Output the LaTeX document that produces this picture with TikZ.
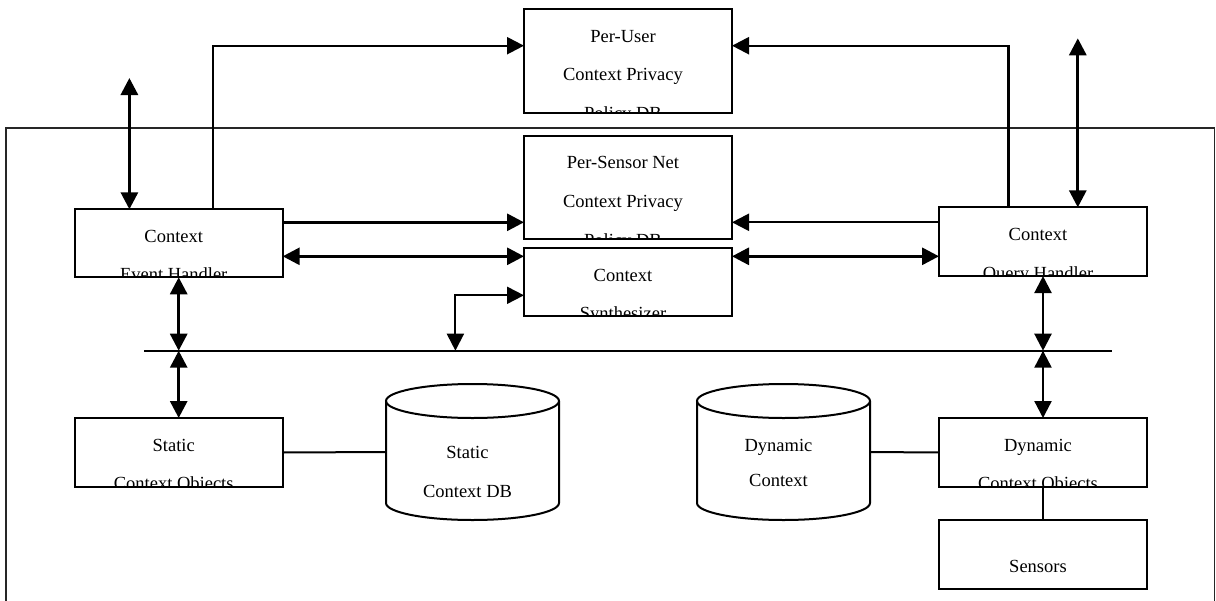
\documentclass[tikz,border=0pt]{standalone}
\usepackage{fontspec}
\setmainfont{Liberation Serif}
\usetikzlibrary{arrows.meta}
\begin{document}
\begin{tikzpicture}[x=1pt,y=-1pt,
  box/.style={draw, line width=2pt, minimum width=208pt, inner sep=0pt, outer sep=0pt},
  cylbody/.style={draw=none, minimum width=173pt, minimum height=102pt, inner sep=0pt, outer sep=0pt},
  cyl/.style={line width=2pt},
  txt/.style={anchor=base, inner sep=0pt, font=\fontsize{18.5}{22}\selectfont},
  tipr/.style={-{Triangle[length=17pt,width=17pt]}},
  dtip/.style={{Triangle[length=17pt,width=17pt]}-{Triangle[length=17pt,width=17pt]}},
  thk/.style={line width=3pt},
  med/.style={line width=2.3pt},
  frame/.style={line width=1.5pt, draw=black!85}]
\useasboundingbox (0,0) rectangle (1216,600);
\clip (0,0) rectangle (1216,600);
% system frame
\draw[frame] (6,128) rectangle (1214.5,650);
% boxes
\node[box, minimum height=104pt] (pu) at (628,61) {};
\node[box, minimum height=103pt] (ps) at (628,187.5) {};
\node[box, minimum height=68pt] (sy) at (628,282.3) {};
\node[box, minimum height=68pt] (eh) at (178.7,243.3) {};
\node[box, minimum height=68.7pt] (qh) at (1043,241.7) {};
\node[box, minimum height=69pt] (so) at (178.7,452.5) {};
\node[box, minimum height=69pt] (do) at (1043,452.5) {};
\node[box, minimum height=69pt] (se) at (1043,554.5) {};
% cylinders
\node[cylbody] (sdb) at (472.5,452) {};
\node[cylbody] (dc) at (783.5,452) {};
\foreach \c in {sdb,dc}{
  \draw[cyl] (\c.north west) -- (\c.south west) arc[start angle=180,end angle=360,x radius=86.5pt,y radius=17pt] -- (\c.north east);
  \draw[cyl] (\c.north) ellipse [x radius=86.5pt, y radius=17pt];
}
% texts (clipped to their boxes)
\begin{scope}\clip (pu.south west) rectangle (pu.north east);
\node[txt] (pu1) at (623,42) {Per-User};
\node[txt] (pu2) at (623,80.7) {Context Privacy};
\node[txt] (pu3) at (623,119.4) {Policy DB};
\end{scope}
\begin{scope}\clip (ps.south west) rectangle (ps.north east);
\node[txt] (ps1) at (623,168.3) {Per-Sensor Net};
\node[txt] (ps2) at (623,207) {Context Privacy};
\node[txt] (ps3) at (623,246.5) {Policy DB};
\end{scope}
\begin{scope}\clip (sy.south west) rectangle (sy.north east);
\node[txt] (sy1) at (623,281) {Context};
\node[txt] (sy2) at (623,319) {Synthesizer};
\end{scope}
\begin{scope}\clip (eh.south west) rectangle (eh.north east);
\node[txt] (eh1) at (173.7,242) {Context};
\node[txt] (eh2) at (173.7,280.7) {Event Handler};
\end{scope}
\begin{scope}\clip (qh.south west) rectangle (qh.north east);
\node[txt] (qh1) at (1038,240.3) {Context};
\node[txt] (qh2) at (1038,279) {Query Handler};
\end{scope}
\begin{scope}\clip (so.south west) rectangle (so.north east);
\node[txt] (so1) at (173.7,451) {Static};
\node[txt] (so2) at (173.7,489.5) {Context Objects};
\end{scope}
\begin{scope}\clip (do.south west) rectangle (do.north east);
\node[txt] (do1) at (1038,451) {Dynamic};
\node[txt] (do2) at (1038,489.5) {Context Objects};
\end{scope}
\node[txt] (se1) at (1038,572) {Sensors};
\node[txt] (sdb1) at (467.5,458) {Static};
\node[txt] (sdb2) at (467.5,497) {Context DB};
\node[txt] (dc1) at (778.5,451) {Dynamic};
\node[txt] (dc2) at (778.5,486) {Context};
% free ends and helper coordinates
\coordinate (ehext) at (129.4,78);
\coordinate (qhext) at (1077.8,38.3);
\coordinate (busL) at (144,350.7);
\coordinate (busR) at (1112,350.7);
\coordinate (sb) at (455.4,350.7);
\coordinate (e1) at ([yshift=21pt]eh.east);
\coordinate (e2) at ([yshift=-13pt]eh.east);
\coordinate (q1) at ([yshift=19.4pt]qh.west);
\coordinate (q2) at ([yshift=-14.6pt]qh.west);
\coordinate (s1) at ([yshift=-13pt]sy.west);
% bus
\draw[line width=2pt] (busL) -- (busR);
% connectors to Per-User DB
\draw[med,tipr] ([xshift=34.3pt]eh.north) |- ([yshift=15.3pt]pu.west);
\draw[med,tipr] ([xshift=-34.4pt]qh.north) |- ([yshift=15.3pt]pu.east);
% external double arrows
\draw[thk,dtip] (ehext) -- (ehext |- eh.north);
\draw[thk,dtip] (qhext) -- (qhext |- qh.north);
% to Per-Sensor DB
\draw[thk,tipr] (e1) -- (e1 -| ps.west);
\draw[med,tipr] (q1) -- (q1 -| ps.east);
% to synthesizer
\draw[thk,dtip] (e2) -- (e2 -| sy.west);
\draw[thk,dtip] (q2 -| sy.east) -- (q2);
\draw[line width=2pt,dtip] (s1) -| (sb);
% bus connections
\draw[thk,dtip] (eh.south) -- (eh.south |- busL);
\draw[thk,dtip] (so.north |- busL) -- (so.north);
\draw[med,dtip] (qh.south) -- (qh.south |- busR);
\draw[med,dtip] (do.north |- busR) -- (do.north);
% plain lines
\draw[line width=2pt] (so.east) -- (sdb.west);
\draw[line width=2pt] (dc.east) -- (do.west);
\draw[line width=2pt] (do.south) -- (se.north);
\end{tikzpicture}
\end{document}
